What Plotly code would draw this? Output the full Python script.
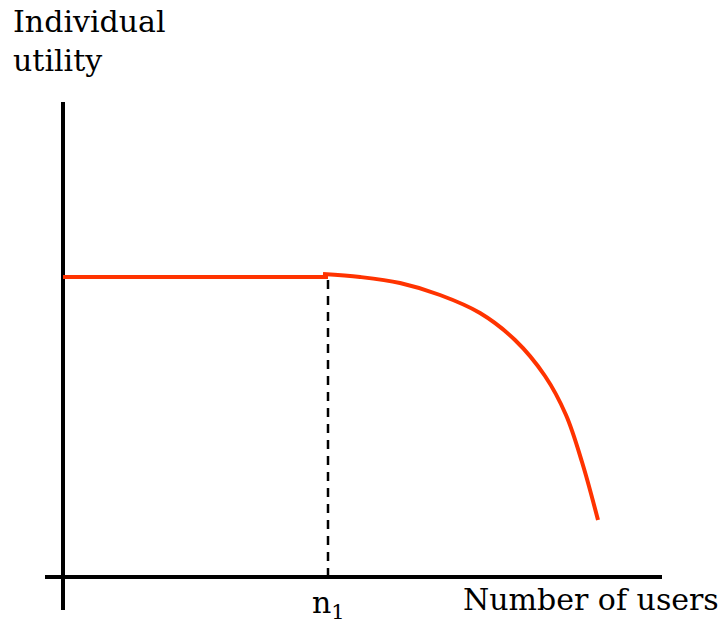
import plotly.graph_objects as go

# Conceptual data (x = number of users, y = individual utility)
flat_x = [0, 265]
flat_y = [300, 300]
curve_x = [260, 297, 337, 377, 417, 452, 482, 503, 519, 535]
curve_y = [303, 300, 294, 282, 264, 237, 201, 162, 115, 57]
n1 = 265
x_axis_x = [-18, 599]
y_axis_y = [-33, 475]

RED = "#ff3300"
FONT = "DejaVu Serif"
FS = 30

fig = go.Figure()
# axes
fig.add_trace(go.Scatter(x=x_axis_x, y=[0, 0], mode="lines",
                         line=dict(color="black", width=4), hoverinfo="skip"))
fig.add_trace(go.Scatter(x=[0, 0], y=y_axis_y, mode="lines",
                         line=dict(color="black", width=4), hoverinfo="skip"))
# dashed line at n1
fig.add_trace(go.Scatter(x=[n1, n1], y=[0, flat_y[0]], mode="lines",
                         line=dict(color="black", width=2.5, dash="9px,7px"), hoverinfo="skip"))
# utility
fig.add_trace(go.Scatter(x=flat_x, y=flat_y, mode="lines",
                         line=dict(color=RED, width=4), hoverinfo="skip"))
fig.add_trace(go.Scatter(x=curve_x, y=curve_y, mode="lines",
                         line=dict(color=RED, width=4, shape="spline", smoothing=1.0), hoverinfo="skip"))

fig.update_layout(
    width=722, height=624,
    margin=dict(l=0, r=0, t=0, b=0),
    paper_bgcolor="white", plot_bgcolor="white",
    showlegend=False,
    xaxis=dict(range=[-63, 659], visible=False, fixedrange=True),
    yaxis=dict(range=[-47, 577], visible=False, fixedrange=True),
    font=dict(family=FONT, color="black", size=FS),
    annotations=[
        dict(text="Individual<br>utility", xref="paper", yref="paper",
             x=11/722, y=1 - 2/624, xanchor="left", yanchor="top", showarrow=False,
             align="left", font=dict(size=FS, family=FONT)),
        dict(text="n<sub>1</sub>", x=n1, y=0, xref="x", yref="y", yshift=-6,
             xanchor="center", yanchor="top", showarrow=False,
             font=dict(size=FS, family=FONT)),
        dict(text="Number of users", xref="paper", yref="paper",
             x=721/722, y=1 - 580/624, xanchor="right", yanchor="top", showarrow=False,
             font=dict(size=FS, family=FONT)),
    ],
)

fig.write_html("out.html", config={"displayModeBar": False},
               post_script="document.body.style.margin='0';document.body.style.overflow='hidden';")
